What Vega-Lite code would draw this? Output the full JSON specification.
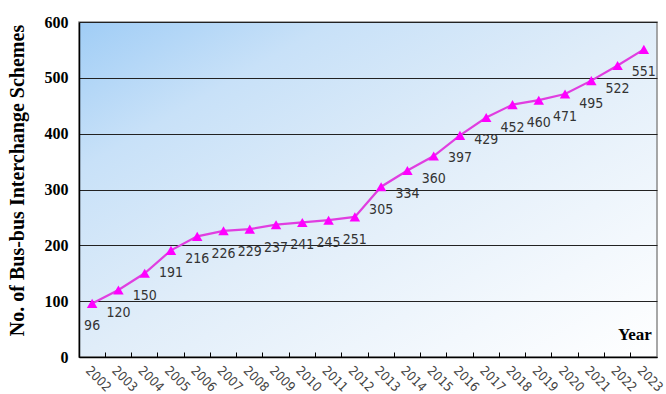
{
  "$schema": "https://vega.github.io/schema/vega-lite/v6.json",
  "width": 578,
  "height": 335,
  "autosize": {"type": "none"},
  "padding": {"left": 79, "top": 22, "right": 9, "bottom": 37},
  "background": "white",
  "config": {
    "view": {
      "fill": {"gradient": "linear", "x1": 0, "y1": 0, "x2": 1, "y2": 1, "stops": [{"offset": 0, "color": "#a0cdf6"}, {"offset": 0.22, "color": "#c8e1f8"}, {"offset": 0.5, "color": "#e0edf9"}, {"offset": 0.8, "color": "#f3f8fd"}, {"offset": 1, "color": "#ffffff"}]},
      "stroke": "#8a8a8a",
      "strokeWidth": 1.5
    }
  },
  "data": {
    "values": [
      {"year": "2002", "n": 96}, {"year": "2003", "n": 120}, {"year": "2004", "n": 150},
      {"year": "2005", "n": 191}, {"year": "2006", "n": 216}, {"year": "2007", "n": 226},
      {"year": "2008", "n": 229}, {"year": "2009", "n": 237}, {"year": "2010", "n": 241},
      {"year": "2011", "n": 245}, {"year": "2012", "n": 251}, {"year": "2013", "n": 305},
      {"year": "2014", "n": 334}, {"year": "2015", "n": 360}, {"year": "2016", "n": 397},
      {"year": "2017", "n": 429}, {"year": "2018", "n": 452}, {"year": "2019", "n": 460},
      {"year": "2020", "n": 471}, {"year": "2021", "n": 495}, {"year": "2022", "n": 522},
      {"year": "2023", "n": 551}
    ]
  },
  "encoding": {
    "x": {
      "field": "year", "type": "ordinal",
      "scale": {"type": "band", "paddingInner": 0, "paddingOuter": 0},
      "axis": {
        "title": null, "labelAngle": 45, "labelAlign": "left", "labelBaseline": "top",
        "labelFont": "DejaVu Sans Condensed, DejaVu Sans, sans-serif", "labelFontSize": 13, "labelColor": "#444",
        "bandPosition": 0, "tickSize": -5, "tickColor": "#000", "tickWidth": 1,
        "labelPadding": 12, "domainColor": "#000", "domainWidth": 1.5, "grid": false
      }
    },
    "y": {
      "field": "n", "type": "quantitative",
      "scale": {"domain": [0, 600]},
      "axis": {
        "title": "No. of Bus-bus Interchange Schemes", "values": [0, 100, 200, 300, 400, 500, 600],
        "titleFont": "Liberation Serif", "titleFontSize": 20, "titleFontWeight": "bold", "titleColor": "#000", "titlePadding": 17, "titleY": 158,
        "labelFont": "Liberation Serif", "labelFontSize": 16, "labelFontWeight": "bold", "labelColor": "#000", "labelPadding": 11,
        "ticks": false, "domainColor": "#000", "domainWidth": 1.5,
        "grid": true, "gridColor": "#222", "gridWidth": 1, "gridOpacity": 1
      }
    }
  },
  "layer": [
    {"mark": {"type": "line", "color": "#e03ee0", "strokeWidth": 2.2}},
    {"mark": {"type": "point", "shape": "triangle-up", "filled": true, "color": "#ff00ff", "opacity": 1, "size": 110}},
    {"mark": {"type": "text", "dy": 23, "baseline": "middle", "align": "center", "font": "DejaVu Sans Condensed, DejaVu Sans, sans-serif", "fontSize": 14, "color": "#333"},
     "encoding": {"text": {"field": "n", "type": "quantitative"}}},
    {"data": {"values": [{"year": "2023", "n": 30, "label": "Year"}]},
     "mark": {"type": "text", "align": "right", "baseline": "alphabetic", "dx": 8, "font": "Liberation Serif", "fontSize": 17, "fontWeight": "bold", "color": "#000"},
     "encoding": {"text": {"field": "label"}}}
  ]
}
